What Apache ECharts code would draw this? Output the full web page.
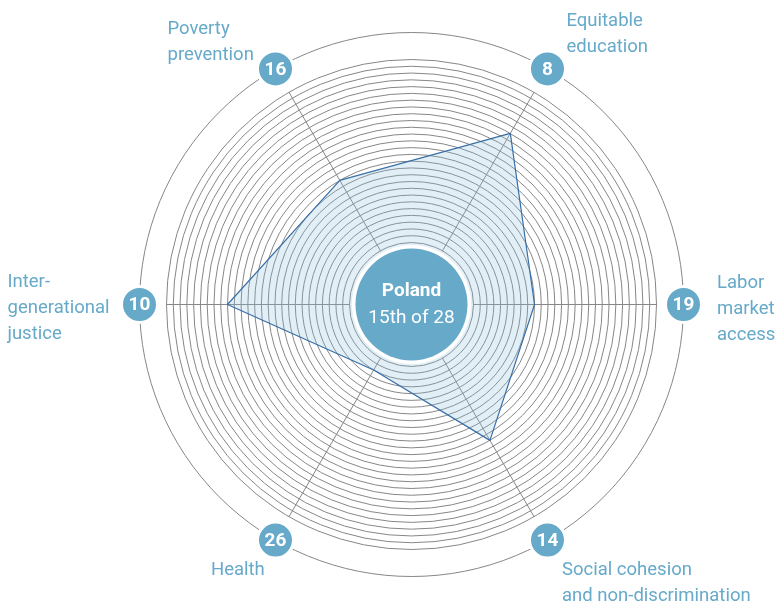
<!DOCTYPE html>
<html>
<head>
<meta charset="utf-8">
<script src="https://cdn.jsdelivr.net/npm/echarts@6/dist/echarts.min.js"></script>
<style>html,body{margin:0;padding:0;background:#fff}#c{width:777px;height:603px}</style>
</head>
<body>
<div id="c"></div>
<script>
// ---- data ----
const categories = ['Equitable education', 'Poverty prevention', 'Inter-generational justice', 'Health', 'Social cohesion and non-discrimination', 'Labor market access'];
const labelLines = [['Equitable', 'education'], ['Poverty', 'prevention'], ['Inter-', 'generational', 'justice'], ['Health'], ['Social cohesion', 'and non-discrimination'], ['Labor', 'market', 'access']];
const ranks = [8, 16, 10, 26, 14, 19];
const countryName = 'Poland';
const overallRank = 15;
const countryCount = 28;

// ---- layout / style ----
const W = 777, H = 603;
const CX = 411.5, CY = 304.5;
const R0 = 62, R1 = 245, ROUT = 272;
const START = 60;
const BLUE = '#66a9c9';
const GRID = '#878787';
const FONT = 'Roboto, "Noto Sans", sans-serif';
const labelOffsets = [[19, -34.5], [-108, -27], [-132, 4], [-64.5, 30], [14.5, 43], [33.5, 5]];

const chart = echarts.init(document.getElementById('c'), null, {renderer: 'canvas'});

const indicator = categories.map(n => ({name: n, min: 0, max: countryCount - 1}));
const values = ranks.map(r => countryCount - r);

const graphics = [];
graphics.push({type: 'circle', z: 1, silent: true, shape: {cx: CX, cy: CY, r: ROUT}, style: {fill: 'none', stroke: GRID, lineWidth: 1}});
graphics.push({type: 'circle', z: 100, shape: {cx: CX, cy: CY, r: 59.5}, style: {fill: '#fff'}});
graphics.push({type: 'circle', z: 101, shape: {cx: CX, cy: CY, r: 56}, style: {fill: BLUE}});
graphics.push({type: 'text', z: 102, style: {text: countryName, x: CX, y: CY - 13.5, align: 'center', verticalAlign: 'middle', fill: '#fff', font: 'bold 19px ' + FONT}});
graphics.push({type: 'text', z: 102, style: {text: overallRank + 'th of ' + countryCount, x: CX, y: CY + 13.5, align: 'center', verticalAlign: 'middle', fill: '#fff', font: '19px ' + FONT}});

categories.forEach((c, i) => {
  const a = (START + 60 * i) * Math.PI / 180;
  const bx = CX + ROUT * Math.cos(a), by = CY - ROUT * Math.sin(a);
  graphics.push({type: 'circle', z: 100, shape: {cx: bx, cy: by, r: 18}, style: {fill: BLUE, stroke: '#fff', lineWidth: 3}});
  graphics.push({type: 'text', z: 101, style: {text: String(ranks[i]), x: bx, y: by + 1, align: 'center', verticalAlign: 'middle', fill: '#fff', font: 'bold 19px ' + FONT}});
  const off = labelOffsets[i];
  graphics.push({type: 'text', z: 101, style: {text: labelLines[i].join('\n'), x: bx + off[0], y: by + off[1], align: 'left', verticalAlign: 'middle', fill: BLUE, font: '18.5px ' + FONT, lineHeight: 26}});
});

chart.setOption({
  animation: false,
  backgroundColor: '#fff',
  radar: {
    center: [CX, CY],
    radius: [R0, R1],
    startAngle: START,
    shape: 'circle',
    splitNumber: countryCount - 1,
    indicator: indicator,
    axisName: {show: false},
    axisLine: {lineStyle: {color: GRID, width: 1}},
    axisTick: {show: false},
    axisLabel: {show: false},
    splitLine: {lineStyle: {color: GRID, width: 1}},
    splitArea: {show: false}
  },
  series: [{
    type: 'radar',
    symbol: 'none',
    data: [{value: values, name: countryName}],
    lineStyle: {color: '#2d65a0', width: 1.2},
    areaStyle: {color: 'rgba(140,190,218,0.35)'}
  }],
  graphic: graphics
});
</script>
</body>
</html>
